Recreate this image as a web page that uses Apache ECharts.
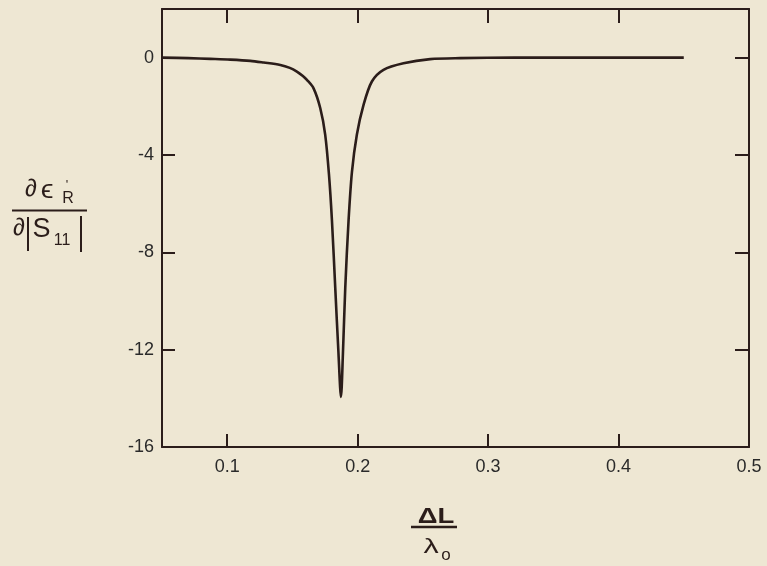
<!DOCTYPE html>
<html>
<head>
<meta charset="utf-8">
<script src="https://cdn.jsdelivr.net/npm/echarts@6/dist/echarts.min.js"></script>
<style>
  html, body { margin: 0; padding: 0; background: #eee7d3; }
  #main { width: 767px; height: 566px; }
</style>
</head>
<body>
<div id="main"></div>
<script>
// values: x = ΔL/λo, y = ∂ε'R / ∂|S11|
var xVals = [0.05, 0.07, 0.087, 0.1023, 0.1177, 0.128, 0.1407, 0.148, 0.1534, 0.158, 0.1611, 0.1662,
  0.1713, 0.1751, 0.178, 0.1803, 0.1828, 0.1853, 0.1872, 0.1887, 0.1905, 0.193, 0.1956, 0.1994,
  0.2045, 0.2109, 0.2198, 0.2351, 0.2556, 0.2786, 0.32, 0.38, 0.45];
var yVals = [0, -0.02, -0.05, -0.08, -0.13, -0.2, -0.3, -0.42, -0.57, -0.75, -0.91, -1.26,
  -2.07, -3.16, -4.8, -6.71, -9.44, -12.16, -13.94, -12.16, -9.44, -6.71, -4.7, -3.16,
  -1.94, -0.98, -0.5, -0.23, -0.06, -0.02, 0, 0, 0];
var xLabels = [0.1, 0.2, 0.3, 0.4, 0.5];
var xTicks = [0.1, 0.2, 0.3, 0.4];
var yLabels = [0, -4, -8, -12, -16];
var yTicks = [0, -4, -8, -12];

var ink = '#2b1d1a';
var font = '"Liberation Sans", Arial, sans-serif';

var chart = echarts.init(document.getElementById('main'));

var pts = [];
for (var i = 0; i < xVals.length; i++) {
  pts.push([xVals[i], yVals[i]]);
}

// centred text at (x, y); sx stretches it sideways
function txt(s, x, y, size, sx, bold) {
  return {
    type: 'text', x: x, y: y, scaleX: sx || 1, originX: 0, originY: 0,
    style: {
      text: s, fontSize: size, fontFamily: font, fontWeight: bold ? 'bold' : 'normal',
      fill: ink, align: 'center', verticalAlign: 'middle'
    }
  };
}
function seg(x1, y1, x2, y2, w) {
  return { type: 'line', shape: { x1: x1, y1: y1, x2: x2, y2: y2 }, style: { stroke: ink, lineWidth: w } };
}

var tickStyle = { color: ink, width: 2 };
var option = {
  backgroundColor: '#eee7d3',
  animation: false,
  grid: { left: 162, right: 18, top: 9, bottom: 119 },
  xAxis: [{
    type: 'value', min: 0.05, max: 0.5,
    axisLine: { onZero: false, lineStyle: { color: ink, width: 2 } },
    axisTick: { inside: true, length: 13, customValues: xTicks, lineStyle: tickStyle },
    axisLabel: { customValues: xLabels, margin: 11, color: '#2a2a2a', fontSize: 18, fontFamily: font },
    splitLine: { show: false }
  }, {
    type: 'value', min: 0.05, max: 0.5, position: 'top',
    axisLine: { onZero: false, lineStyle: { color: ink, width: 2 } },
    axisTick: { inside: true, length: 14, customValues: xTicks, lineStyle: tickStyle },
    axisLabel: { show: false },
    splitLine: { show: false }
  }],
  yAxis: [{
    type: 'value', min: -16, max: 2,
    axisLine: { show: true, onZero: false, lineStyle: { color: ink, width: 2 } },
    axisTick: { show: true, inside: true, length: 13, customValues: yTicks, lineStyle: tickStyle },
    axisLabel: { customValues: yLabels, margin: 8, color: '#2a2a2a', fontSize: 18, fontFamily: font },
    splitLine: { show: false }
  }, {
    type: 'value', min: -16, max: 2, position: 'right',
    axisLine: { show: true, onZero: false, lineStyle: { color: ink, width: 2 } },
    axisTick: { show: true, inside: true, length: 14, customValues: yTicks, lineStyle: tickStyle },
    axisLabel: { show: false },
    splitLine: { show: false }
  }],
  series: [{
    type: 'line',
    data: pts,
    smooth: 0.3,
    showSymbol: false,
    lineStyle: { color: ink, width: 2.6 }
  }],
  graphic: [
    // y-axis title: ∂ε'R / ∂|S11|
    txt('∂', 31, 189, 24),
    txt('ϵ', 47, 191, 25, 1.15),
    txt('\'', 67, 185, 13),
    txt('R', 68, 199, 16),
    seg(12, 210.5, 87, 210.5, 2),
    txt('∂', 19, 228, 24),
    seg(28, 217, 28, 251, 2),
    txt('S', 41.5, 230, 27),
    txt('11', 62, 241, 16),
    seg(81, 216, 81, 252, 2),
    // x-axis title: ΔL / λo
    txt('ΔL', 436, 517, 22, 1.25, true),
    seg(411, 527, 457, 527, 2.5),
    txt('λ', 431, 547, 21, 1.45),
    txt('o', 446, 555, 17)
  ]
};

chart.setOption(option);
</script>
</body>
</html>
